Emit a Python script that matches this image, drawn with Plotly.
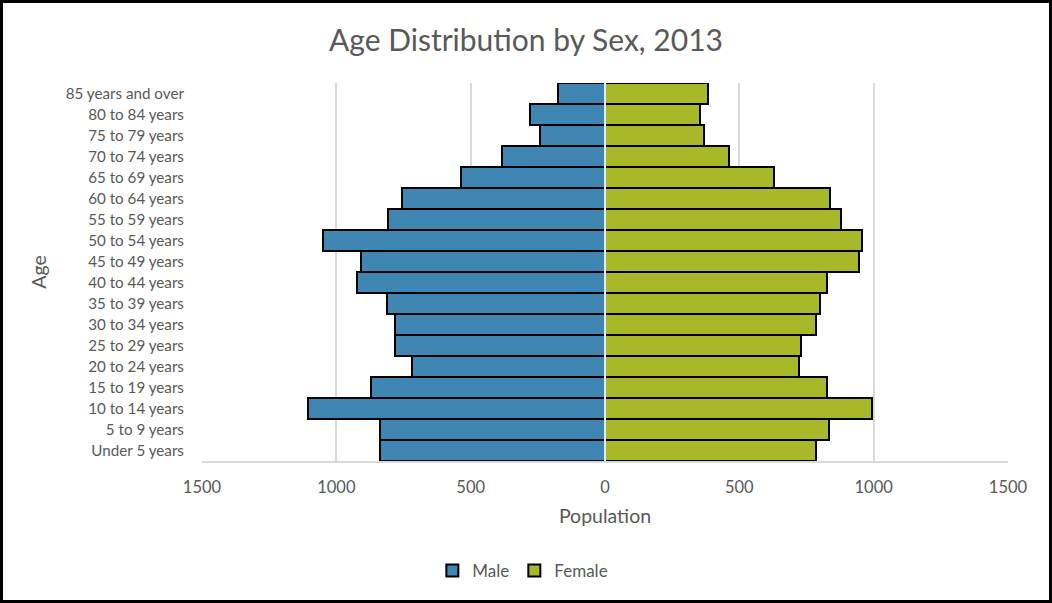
import plotly.graph_objects as go

age_groups = ["Under 5 years", "5 to 9 years", "10 to 14 years", "15 to 19 years",
              "20 to 24 years", "25 to 29 years", "30 to 34 years", "35 to 39 years",
              "40 to 44 years", "45 to 49 years", "50 to 54 years", "55 to 59 years",
              "60 to 64 years", "65 to 69 years", "70 to 74 years", "75 to 79 years",
              "80 to 84 years", "85 years and over"]
male = [836, 836, 1104, 872, 719, 783, 783, 810, 922, 908, 1050, 808,
        755, 536, 384, 242, 280, 176]
female = [784, 835, 995, 826, 721, 731, 784, 799, 825, 945, 958, 879,
          838, 630, 460, 370, 355, 382]
tick_values = [-1500, -1000, -500, 0, 500, 1000, 1500]
tick_labels = ["1500", "1000", "500", "0", "500", "1000", "1500"]

MALE_COLOR = "#3F87B2"
FEMALE_COLOR = "#A8B828"
TEXT = "#595959"
FONT = "Lato"

W, H = 1052, 603
L, R, T, B = 202, 44, 83, 142
pw, ph = W - L - R, H - T - B

fig = go.Figure()
fig.add_trace(go.Bar(
    y=age_groups, x=[-v for v in male], customdata=male, name="Male",
    orientation="h", marker=dict(color=MALE_COLOR, line=dict(color="black", width=2)),
    hovertemplate="%{y}<br>Male: %{customdata}<extra></extra>"))
fig.add_trace(go.Bar(
    y=age_groups, x=female, name="Female",
    orientation="h", marker=dict(color=FEMALE_COLOR, line=dict(color="black", width=2)),
    hovertemplate="%{y}<br>Female: %{x}<extra></extra>"))

# vertical category axis line at zero, drawn over the bars
fig.add_shape(type="line", xref="x", yref="paper", x0=0, x1=0, y0=0, y1=1,
              line=dict(color="#E4ECF3", width=2), layer="above")

# outer black frame of the image
fig.add_shape(type="rect", xref="paper", yref="paper",
              x0=(1.5 - L) / pw, x1=(W - 1.5 - L) / pw,
              y0=(T + ph - (H - 1.5)) / ph, y1=(T + ph - 1.5) / ph,
              line=dict(color="black", width=3), fillcolor="rgba(0,0,0,0)")

fig.update_layout(
    width=W, height=H,
    margin=dict(l=L, r=R, t=T, b=B, autoexpand=False),
    paper_bgcolor="white", plot_bgcolor="white",
    barmode="relative", bargap=0,
    font=dict(family=FONT, color=TEXT),
    title=dict(text="Age Distribution by Sex, 2013", x=0.5, xref="container",
               y=1 - 40 / H, yref="container", yanchor="middle",
               font=dict(size=30, color=TEXT, family=FONT)),
    xaxis=dict(range=[-1500, 1500], tickvals=tick_values, ticktext=tick_labels,
               showgrid=True, gridcolor="#D9D9D9", gridwidth=1.5,
               zeroline=False,
               showline=True, linecolor="#D9D9D9", linewidth=1.5,
               ticks="outside", ticklen=10, tickcolor="rgba(0,0,0,0)",
               tickfont=dict(size=16.5, color=TEXT),
               title=dict(text="Population", font=dict(size=19.5, color=TEXT), standoff=14),
               fixedrange=True),
    yaxis=dict(categoryorder="array", categoryarray=age_groups,
               showgrid=False, zeroline=False, showline=False,
               ticks="outside", ticklen=14, tickcolor="rgba(0,0,0,0)",
               tickfont=dict(size=15.2, color=TEXT),
               title=dict(text="Age", font=dict(size=19.5, color=TEXT), standoff=13),
               fixedrange=True),
    legend=dict(orientation="h", xref="container", x=0.497, xanchor="center",
                yref="container", y=1 - 571 / H, yanchor="middle",
                font=dict(size=17, color=TEXT), itemwidth=30, traceorder="normal"),
)

fig.write_html("out.html", config={"displayModeBar": False},
               post_script="document.body.style.margin='0';document.body.style.padding='0';")
